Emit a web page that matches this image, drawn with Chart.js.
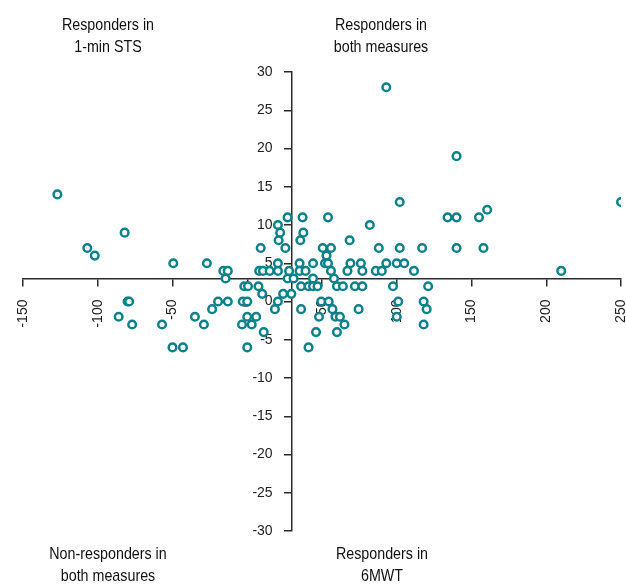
<!DOCTYPE html>
<html>
<head>
<meta charset="utf-8">
<script src="https://cdn.jsdelivr.net/npm/chart.js@4.4.0/dist/chart.umd.min.js"></script>
<style>
  html, body { margin: 0; padding: 0; background: #fff; }
  #wrap { width: 626px; height: 585px; position: relative; }
</style>
</head>
<body>
<div id="wrap"><canvas id="myChart" width="626" height="585"></canvas></div>
<script>
// change in 6MWT (m) and change in 1-min STS (repetitions), one entry per patient
var change6mwt = [
  -127, -107, -102, -82, -80, -79, -86, -77, -57, -49.5, -50, -43, -35, -29, -27,
  -23.5, -19.5, -13, -16, -13, -14.5, -3, 0, -2, 0.5, -3.5, 3, 0, 6, 0,
  7.5, 10, 11, 9, 8, 10.5, 15, 20.5, 20.5, 24, 29.5, 20.5, 18.5, 27, 28,
  27, 37, 20.5, 22, 21, 25.5, 37.5, 35.5, 54, 82, 68.5, 50.5, 56, 88, 102,
  53, 102, 93, 140, 134, 140, 155, 160.5, 250, 117, 140, 158, 210,
  35, 44, 52, 54, 69, 76, 93, 100, 105,
  35, 39, 56, 67, 77, 86, 90, 111.5,
  31, 44, 58,
  36, 41, 44, 47, 60, 64, 72, 77, 97.5, 121,
  49.5, 54.5, 101, 118,
  36, 57, 74.5, 120,
  48, 59, 62, 100,
  65, 118,
  46, 60,
  41
];
var change1minSts = [
  14, 7, 6, 9, 0, 0, -2, -3, -3, 5, -6, -6, -2, -3, 5,
  -1, 0, 0, 4, 4, 3, 0, 0, 2, 2, -3, -3, -2, -2, -6,
  2, 1, -4, 7, 4, 4, 4, 4, 5, 1, 1, 0, -1, 3, 4,
  11, 11, 10, 9, 8, 7, 9, 8, 11, 10, 8, 7, 7, 7, 7,
  6, 13, 28, 19, 11, 11, 11, 12, 13, 7, 7, 7, 4,
  5, 5, 5, 5, 5, 5, 5, 5, 5,
  4, 4, 4, 4, 4, 4, 4, 4,
  3, 3, 3,
  2, 2, 2, 2, 2, 2, 2, 2, 2, 2,
  0, 0, 0, 0,
  -1, -1, -1, -1,
  -2, -2, -2, -2,
  -3, -3,
  -4, -4,
  -6
];
var xTicks = [-150, 250, 50];   // min, max, step
var yTicks = [-30, 30, 5];
var xCross = 30;   // where the STS axis crosses the 6MWT axis
var yCross = 3;    // where the 6MWT axis crosses the STS axis

var quadrantLabels = [
  ["Responders in", "1-min STS"],
  ["Responders in", "both measures"],
  ["Non-responders in", "both measures"],
  ["Responders in", "6MWT"]
];

var punto = '#0b8289';
var eje = '#2b2b2b';

var puntos = change6mwt.map(function (x, i) {
  return { x: x, y: change1minSts[i] };
});

var cuadrantes = {
  id: 'cuadrantes',
  afterDraw: function (chart) {
    var ctx = chart.ctx;
    var sx = 0.84;
    ctx.save();
    ctx.fillStyle = '#111';
    ctx.font = '17px "Liberation Sans", Arial, sans-serif';
    ctx.textAlign = 'center';
    ctx.textBaseline = 'alphabetic';
    ctx.scale(sx, 1);
    var pos = [[108, 30], [381, 30], [108, 559], [382, 559]];
    quadrantLabels.forEach(function (lineas, i) {
      ctx.fillText(lineas[0], pos[i][0] / sx, pos[i][1]);
      ctx.fillText(lineas[1], pos[i][0] / sx, pos[i][1] + 22);
    });
    ctx.restore();
  }
};

new Chart(document.getElementById("myChart"), {
  type: 'scatter',
  data: {
    datasets: [{
      label: 'Patients',
      data: puntos,
      pointRadius: 3.8,
      pointHoverRadius: 3.8,
      borderWidth: 2.5,
      borderColor: punto,
      backgroundColor: '#ffffff'
    }]
  },
  options: {
    responsive: false,
    animation: false,
    layout: { autoPadding: false, padding: { left: 23, right: 5, top: 72, bottom: 54 } },
    plugins: {
      legend: { display: false },
      tooltip: { enabled: false }
    },
    scales: {
      x: {
        type: 'linear',
        position: { y: yCross },
        min: xTicks[0],
        max: xTicks[1],
        // rotated labels + padding would otherwise eat room at the right
        afterFit: function (s) { s.paddingLeft = 0; s.paddingRight = 0; },
        ticks: {
          stepSize: xTicks[2],
          minRotation: 90,
          maxRotation: 90,
          color: '#222',
          padding: 14,
          font: { family: '"Liberation Sans", Arial, sans-serif', size: 14 }
        },
        grid: { drawOnChartArea: false, drawTicks: true, tickLength: 7, color: eje, lineWidth: 1.5 },
        border: { display: true, color: eje, width: 1.5 }
      },
      y: {
        type: 'linear',
        position: { x: xCross },
        min: yTicks[0],
        max: yTicks[1],
        ticks: {
          stepSize: yTicks[2],
          color: '#222',
          font: { family: '"Liberation Sans", Arial, sans-serif', size: 14 },
          // labels sit left of the tick marks
          callback: function (v) { return v + '     '; }
        },
        grid: { drawOnChartArea: false, drawTicks: true, tickLength: 7, color: eje, lineWidth: 1.5 },
        border: { display: true, color: eje, width: 1.5 }
      }
    }
  },
  plugins: [cuadrantes]
});
</script>
</body>
</html>
